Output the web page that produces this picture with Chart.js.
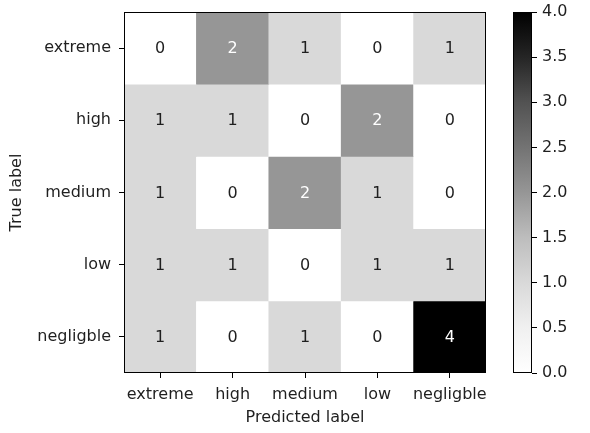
<!DOCTYPE html>
<html>
<head>
<meta charset="utf-8">
<script src="https://cdn.jsdelivr.net/npm/chart.js@4.4.0/dist/chart.umd.min.js"></script>
<style>
  html, body { margin: 0; padding: 0; background: #fff; }
  #wrap { position: relative; width: 590px; height: 433px; overflow: hidden; }
  #cm { position: absolute; left: 0; top: 0; }
  #cb { position: absolute; left: 480px; top: 0; }
</style>
</head>
<body>
<div id="wrap">
  <canvas id="cm" width="500" height="433"></canvas>
  <canvas id="cb" width="110" height="433"></canvas>
</div>
<script>
// ---- data ----
const categories = ['extreme', 'high', 'medium', 'low', 'negligble'];
const rowExtreme   = [0, 2, 1, 0, 1];
const rowHigh      = [1, 1, 0, 2, 0];
const rowMedium    = [1, 0, 2, 1, 0];
const rowLow       = [1, 1, 0, 1, 1];
const rowNegligble = [1, 0, 1, 0, 4];
const colorbarTicks = [0, 0.5, 1, 1.5, 2, 2.5, 3, 3.5, 4];
const colorbarTickLabels = ['0.0', '0.5', '1.0', '1.5', '2.0', '2.5', '3.0', '3.5', '4.0'];
const xTitle = 'Predicted label';
const yTitle = 'True label';

const rows = [rowExtreme, rowHigh, rowMedium, rowLow, rowNegligble];
const vmin = 0, vmax = 4;

// matplotlib "Greys" colormap stops
const greys = ['#ffffff', '#f0f0f0', '#d9d9d9', '#bdbdbd', '#969696', '#737373', '#525252', '#252525', '#000000'];
function hexToRgb(h) { return [parseInt(h.substr(1, 2), 16), parseInt(h.substr(3, 2), 16), parseInt(h.substr(5, 2), 16)]; }
function greyColor(v) {
  let t = (v - vmin) / (vmax - vmin);
  t = Math.max(0, Math.min(1, t));
  const pos = t * (greys.length - 1);
  const i = Math.min(Math.floor(pos), greys.length - 2);
  const f = pos - i;
  const a = hexToRgb(greys[i]), b = hexToRgb(greys[i + 1]);
  const c = a.map((x, k) => Math.round(x + (b[k] - x) * f));
  return 'rgb(' + c.join(',') + ')';
}
const thresh = (vmin + vmax) / 2;

const FONT = { family: 'DejaVu Sans', size: 16 };
const TXT = '#1f1f1f';

const datasets = rows.map((vals, r) => ({
  data: vals.map(() => [r - 0.5, r + 0.5]),
  counts: vals,
  backgroundColor: vals.map(v => greyColor(v)),
  borderWidth: 0,
  borderSkipped: false,
  grouped: false,
  barPercentage: 1,
  categoryPercentage: 1
}));

const framePlugin = {
  id: 'frame',
  afterDraw(chart) {
    const { ctx, chartArea: a } = chart;
    ctx.save();
    ctx.strokeStyle = '#000';
    ctx.lineWidth = 1;
    ctx.strokeRect(Math.round(a.left) + 0.5, Math.round(a.top) + 0.5, Math.round(a.right - a.left) - 1, Math.round(a.bottom - a.top) - 1);
    ctx.restore();
  }
};

const cellTextPlugin = {
  id: 'cellText',
  afterDatasetsDraw(chart) {
    const ctx = chart.ctx;
    ctx.save();
    ctx.font = FONT.size + 'px "' + FONT.family + '"';
    ctx.textAlign = 'center';
    ctx.textBaseline = 'middle';
    chart.data.datasets.forEach((ds, di) => {
      const meta = chart.getDatasetMeta(di);
      meta.data.forEach((el, i) => {
        const v = ds.counts[i];
        const yc = (el.y + el.base) / 2;
        ctx.fillStyle = v < thresh ? TXT : '#ffffff';
        ctx.fillText(String(v), el.x, yc + 1);
      });
    });
    ctx.restore();
  }
};

new Chart(document.getElementById('cm'), {
  type: 'bar',
  data: { labels: categories, datasets },
  options: {
    responsive: false,
    animation: false,
    devicePixelRatio: 1,
    layout: { padding: { left: 0, top: 12, right: 14, bottom: 0 } },
    plugins: { legend: { display: false }, tooltip: { enabled: false } },
    scales: {
      x: {
        type: 'category',
        offset: true,
        grid: { display: true, drawOnChartArea: false, drawTicks: true, tickLength: 5, offset: false, color: '#000', lineWidth: 1 },
        border: { display: false },
        ticks: { color: TXT, font: FONT, padding: 7, autoSkip: false, maxRotation: 0, minRotation: 0 },
        title: { display: true, text: xTitle, color: TXT, font: FONT, padding: { top: 0, bottom: 6 } },
        afterFit(s) { s.height = 60; s.paddingLeft = 0; s.paddingRight = 0; }
      },
      y: {
        type: 'linear',
        min: -0.5,
        max: 4.5,
        reverse: true,
        afterBuildTicks(s) { s.ticks = categories.map((c, i) => ({ value: i })); },
        grid: { display: true, drawOnChartArea: false, drawTicks: true, tickLength: 5, color: '#000', lineWidth: 1 },
        border: { display: false },
        ticks: { color: TXT, font: FONT, padding: 8, callback: (v) => categories[v] },
        title: { display: true, text: yTitle, color: TXT, font: FONT, padding: { top: 7, bottom: 0 } },
        afterFit(s) { s.width = 124; s.paddingTop = 0; s.paddingBottom = 0; }
      }
    }
  },
  plugins: [cellTextPlugin, framePlugin]
});

// ---- colorbar ----
new Chart(document.getElementById('cb'), {
  type: 'bar',
  data: {
    labels: ['cb'],
    datasets: [{
      data: [[vmin, vmax]],
      backgroundColor(ctx) {
        const chart = ctx.chart;
        const a = chart.chartArea;
        if (!a) return '#888';
        const y = chart.scales.y;
        const g = chart.ctx.createLinearGradient(0, y.getPixelForValue(vmin), 0, y.getPixelForValue(vmax));
        greys.forEach((c, i) => g.addColorStop(i / (greys.length - 1), c));
        return g;
      },
      borderWidth: 0,
      borderSkipped: false,
      barPercentage: 1,
      categoryPercentage: 1
    }]
  },
  options: {
    responsive: false,
    animation: false,
    devicePixelRatio: 1,
    layout: { padding: { left: 33, top: 12, right: 0, bottom: 60 } },
    plugins: { legend: { display: false }, tooltip: { enabled: false } },
    scales: {
      x: { display: false, offset: true },
      y: {
        type: 'linear',
        position: 'right',
        min: vmin,
        max: vmax,
        afterBuildTicks(s) { s.ticks = colorbarTicks.map(v => ({ value: v })); },
        grid: { display: true, drawOnChartArea: false, drawTicks: true, tickLength: 5, color: '#000', lineWidth: 1 },
        border: { display: false },
        ticks: { color: TXT, font: FONT, padding: 5, callback: (v, i) => colorbarTickLabels[i] },
        afterFit(s) { s.width = 58; s.paddingTop = 0; s.paddingBottom = 0; }
      }
    }
  },
  plugins: [framePlugin]
});
</script>
</body>
</html>
